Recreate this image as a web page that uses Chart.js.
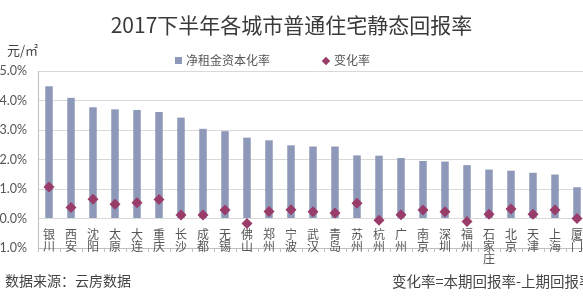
<!DOCTYPE html>
<html>
<head>
<meta charset="utf-8">
<script src="https://cdn.jsdelivr.net/npm/chart.js@4"></script>
<style>
  html,body{margin:0;padding:0;width:583px;height:299px;overflow:hidden;background:#fff;}
  #wrap{position:absolute;left:0;top:0;width:600px;height:299px;}
  .t{position:absolute;white-space:nowrap;font-family:"Noto Sans CJK SC","Noto Sans",sans-serif;color:#333;}
  #title{left:0;width:583px;top:9px;text-align:center;font-size:21px;color:#3a3a3a;}
  #unit{left:7px;top:40px;font-size:13px;color:#444;}
  .leg{top:51px;font-size:12px;color:#555;}
  .sq{display:inline-block;width:7px;height:7px;background:rgb(142,153,185);margin-right:4px;vertical-align:1px;}
  .dm{display:inline-block;width:6px;height:6px;background:rgb(153,60,105);transform:rotate(45deg);margin-right:5px;vertical-align:1px;}
  #src{left:5px;top:270px;font-size:14px;color:#444;}
  #note{left:392px;top:270px;font-size:14.5px;color:#444;}
</style>
</head>
<body>
<div id="wrap"><canvas id="c" width="600" height="299"></canvas></div>
<div class="t" id="title">2017下半年各城市普通住宅静态回报率</div>
<div class="t" id="unit">元/㎡</div>
<div class="t leg" style="left:175px;"><span class="sq"></span>净租金资本化率</div>
<div class="t leg" style="left:323px;"><span class="dm"></span>变化率</div>
<div class="t" id="src">数据来源：云房数据</div>
<div class="t" id="note">变化率=本期回报率-上期回报率</div>
<script>
const categories = ["银川","西安","沈阳","太原","大连","重庆","长沙","成都","无锡","佛山","郑州","宁波","武汉","青岛","苏州","杭州","广州","南京","深圳","福州","石家庄","北京","天津","上海","厦门"];
const rentalYield = [4.48,4.09,3.77,3.70,3.68,3.61,3.42,3.04,2.96,2.74,2.65,2.48,2.44,2.44,2.14,2.13,2.05,1.95,1.93,1.81,1.66,1.62,1.55,1.49,1.06];
const changeRate = [1.07,0.37,0.65,0.48,0.53,0.64,0.12,0.12,0.29,-0.17,0.24,0.30,0.23,0.19,0.52,-0.06,0.13,0.29,0.23,-0.10,0.14,0.32,0.14,0.29,0.00];
const yTicks = [-1,0,1,2,3,4,5];

const BAR = 'rgb(142,153,185)';
const DIA = 'rgb(153,60,105)';

const cityLabels = {
  id: 'cityLabels',
  beforeDatasetsDraw(chart) {
    const ctx = chart.ctx, xs = chart.scales.x, ys = chart.scales.y;
    const y0 = ys.getPixelForValue(0);
    ctx.save();
    ctx.fillStyle = '#555';
    ctx.font = '12px "Noto Sans CJK SC", sans-serif';
    ctx.textAlign = 'center';
    ctx.textBaseline = 'middle';
    categories.forEach((name, i) => {
      const x = xs.getPixelForValue(i);
      [...name].forEach((ch, k) => ctx.fillText(ch, x, y0 + 16 + k * 12));
    });
    ctx.restore();
  }
};

new Chart(document.getElementById('c'), {
  data: {
    labels: categories,
    datasets: [
      { type: 'line', label: '变化率', data: changeRate, showLine: false,
        pointStyle: 'rectRot', pointRadius: 5.5, pointHoverRadius: 5.5,
        backgroundColor: DIA, borderColor: DIA, borderWidth: 0, order: 0 },
      { type: 'bar', label: '净租金资本化率', data: rentalYield, backgroundColor: BAR,
        barPercentage: 0.34, categoryPercentage: 1, order: 1 }
    ]
  },
  options: {
    responsive: false,
    animation: false,
    devicePixelRatio: 1,
    layout: { padding: { left: 0, right: 12, top: 71, bottom: 47 } },
    plugins: { legend: { display: false }, title: { display: false }, tooltip: { enabled: false } },
    scales: {
      x: {
        offset: true,
        grid: { display: true, drawOnChartArea: false, drawTicks: true, tickLength: 4, color: '#bfbfbf', offset: true },
        border: { display: true, color: '#bfbfbf' },
        ticks: { display: false },
        afterFit(s) { s.height = 4; }
      },
      y: {
        min: -1, max: 5,
        afterBuildTicks(s) { s.ticks = yTicks.map(v => ({ value: v })); },
        grid: { color: '#d9d9d9', drawTicks: false },
        border: { display: true, color: '#bfbfbf' },
        ticks: { padding: 11, color: '#555', font: { family: 'Lato, "Liberation Sans", sans-serif', size: 12.5 },
                 callback: v => v.toFixed(1) + '%' },
        afterFit(s) { s.width = 38; }
      }
    }
  },
  plugins: [cityLabels]
});
</script>
</body>
</html>
